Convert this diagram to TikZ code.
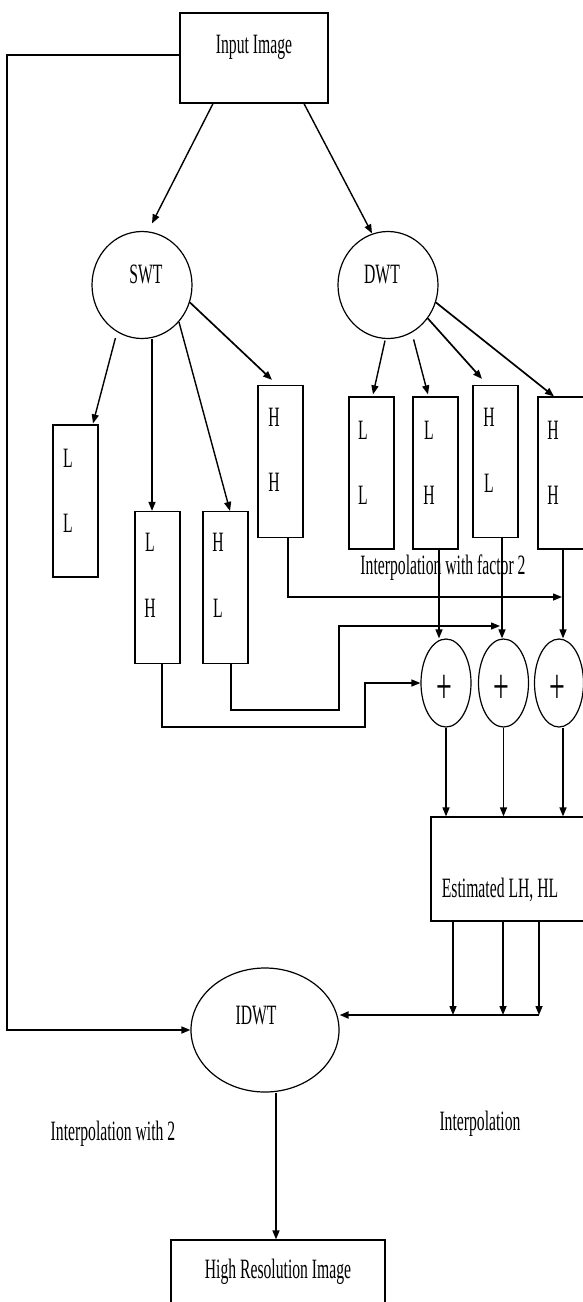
\documentclass[tikz,border=0pt]{standalone}
\usepackage{fontspec}
\setmainfont{Liberation Serif}[FakeStretch=0.56]
\usetikzlibrary{arrows.meta,shapes.geometric,calc}
\newcommand{\mainsz}{\fontsize{28}{32}\selectfont}
\newcommand{\plussz}{\fontsize{50}{54}\selectfont}
\tikzset{
  box/.style={draw, line width=1.2pt, rectangle, inner sep=0pt},
  oval/.style={draw, line width=1.2pt, ellipse, inner sep=0pt},
  band/.style={box, minimum width=45pt, minimum height=152pt},
  pl/.style={oval, minimum width=50pt, minimum height=88pt},
  txt/.style={inner sep=0pt, font=\mainsz},
  lett/.style={inner sep=0pt, font=\mainsz},
  plustxt/.style={inner sep=0pt, font=\plussz},
  conn/.style={line width=1.4pt, -{Triangle[length=9pt,width=7pt]}},
  bold/.style={line width=2pt},
}
\begin{document}
\begin{tikzpicture}[x=1pt,y=-1pt]
\useasboundingbox (0,0) rectangle (582,1302);

% top
\node[box, minimum width=148pt, minimum height=90pt] (in) at (254,58) {};
\node[txt, anchor=base] (inT) at (254,53) {Input Image};

\node[oval, minimum width=100pt, minimum height=107pt] (swt) at (142,285) {};
\node[txt, anchor=base] (swtT) at (146,283) {SWT};
\node[oval, minimum width=100pt, minimum height=107pt] (dwt) at (388,285) {};
\node[txt, anchor=base] (dwtT) at (382,283) {DWT};

% SWT bands
\node[band] (sLL) at (75.5,501) {};
\node[band] (sLH) at (157.5,587.5) {};
\node[band] (sHL) at (225.5,587.5) {};
\node[band] (sHH) at (280.5,461.5) {};
\node[lett] (sLL1) at (68,458) {L};  \node[lett] (sLL2) at (68,523) {L};
\node[lett] (sLH1) at (150,542) {L}; \node[lett] (sLH2) at (150,608) {H};
\node[lett] (sHL1) at (218,542) {H}; \node[lett] (sHL2) at (218,608) {L};
\node[lett] (sHH1) at (274,417) {H}; \node[lett] (sHH2) at (274,482) {H};

% DWT bands
\node[band] (dLL) at (371.5,473) {};
\node[band] (dLH) at (435.5,473) {};
\node[band] (dHL) at (495.5,461.5) {};
\node[band, minimum width=46pt] (dHH) at (561,473) {};
\node[lett] (dLL1) at (363,430) {L}; \node[lett] (dLL2) at (363,495) {L};
\node[lett] (dLH1) at (429,430) {L}; \node[lett] (dLH2) at (429,495) {H};
\node[lett] (dHL1) at (489,417) {H}; \node[lett] (dHL2) at (489,483) {L};
\node[lett] (dHH1) at (553,430) {H}; \node[lett] (dHH2) at (553,495) {H};

\node[txt, anchor=base] (interp1) at (443,574) {Interpolation with factor 2};

% adders
\node[pl] (p1) at (446,683) {};
\node[pl] (p2) at (503.5,683) {};
\node[pl, minimum width=49pt] (p3) at (559,683) {};
\node[plustxt] (p1T) at (444,689) {+};
\node[plustxt] (p2T) at (501.5,689) {+};
\node[plustxt] (p3T) at (557,689) {+};

% estimated
\node[box, minimum width=153pt, minimum height=104pt] (est) at (507.5,869) {};
\node[txt, anchor=base] (estT) at (500,897) {Estimated LH, HL};

% IDWT and output
\node[oval, minimum width=148pt, minimum height=124pt] (idwt) at (265,1030) {};
\node[txt, anchor=base] (idwtT) at (256,1024) {IDWT};
\node[txt, anchor=base] (interp2) at (113,1140) {Interpolation with 2};
\node[txt, anchor=base] (interp3) at (480,1130) {Interpolation};
\node[box, minimum width=214pt, minimum height=70pt] (hr) at (278,1275) {};
\node[txt, anchor=base] (hrT) at (278,1278) {High Resolution Image};

% connectors from input
\draw[conn] ([xshift=-41pt]in.south) -- ([xshift=10pt,yshift=7.5pt]swt.north);
\draw[conn] ([xshift=50pt]in.south) -- ([xshift=-16pt,yshift=-2.5pt]dwt.north);

% SWT branches
\draw[conn] ([yshift=-7pt]swt.-120) -- ([xshift=17.5pt,yshift=1pt]sLL.north);
\draw[conn] ([xshift=10pt]swt.south) -- ([xshift=-5.5pt]sLH.north);
\draw[conn] (swt.-45) -- ([xshift=4.5pt]sHL.north);
\draw[conn, line width=1.7pt] (swt.-20) -- ([xshift=-8.5pt,yshift=5pt]sHH.north);

% DWT branches
\draw[conn] ([xshift=-3pt,yshift=-1.5pt]dwt.south) -- ([xshift=1.5pt,yshift=2pt]dLL.north);
\draw[conn] ([xshift=3pt,yshift=-6pt]dwt.-65) -- ([xshift=-7.5pt,yshift=2pt]dLH.north);
\draw[conn, line width=1.7pt] (dwt.-40) -- ([xshift=-13.5pt,yshift=6pt]dHL.north);
\draw[conn, line width=1.7pt] (dwt.-20) -- ([xshift=-7pt]dHH.north);

% interpolation flows
\coordinate (j3) at (562,597);
\draw[conn] ([xshift=7.5pt]sHH.south) |- (j3);
\coordinate (v1) at ([xshift=3.5pt]dLH.south);
\draw[conn] (v1) -- (v1 |- p1.north);
\coordinate (v2) at ([xshift=6.5pt]dHL.south);
\draw[conn] (v2) -- (v2 |- p2.north);
\coordinate (v3) at ([xshift=2pt]dHH.south);
\draw[conn] (v3) -- (v3 |- p3.north);

\coordinate (j2) at (500,626);
\coordinate (b2) at (339,710);
\draw[conn] ([xshift=5.5pt]sHL.south) |- (b2) |- (j2);
\coordinate (b1) at (365,727);
\draw[conn] ([xshift=4.5pt]sLH.south) |- (b1) |- (p1.west);

% adders to estimated
\draw[conn] (p1.south) -- (p1.south |- est.north);
\draw[conn] (p2.south) -- (p2.south |- est.north);
\coordinate (v6) at ([xshift=4pt]p3.south);
\draw[conn] (v6) -- (v6 |- est.north);

% estimated to IDWT
\coordinate (k1) at (453,1015);
\coordinate (k2) at (503,1015);
\coordinate (k3) at (539,1015);
\draw[conn] (k1 |- est.south) -- (k1);
\draw[conn] (k2 |- est.south) -- (k2);
\draw[conn] (k3 |- est.south) -- (k3);
\draw[conn, bold] (k3) -- (idwt.east |- k3);

% feedback from input
\coordinate (fb) at (7,55);
\draw[conn, line width=1.7pt] ([yshift=3pt]in.west) -- (fb) |- (idwt.west);

% output
\coordinate (v7) at ([xshift=11pt]idwt.south);
\draw[conn] (v7) -- (v7 |- hr.north);
\end{tikzpicture}
\end{document}
